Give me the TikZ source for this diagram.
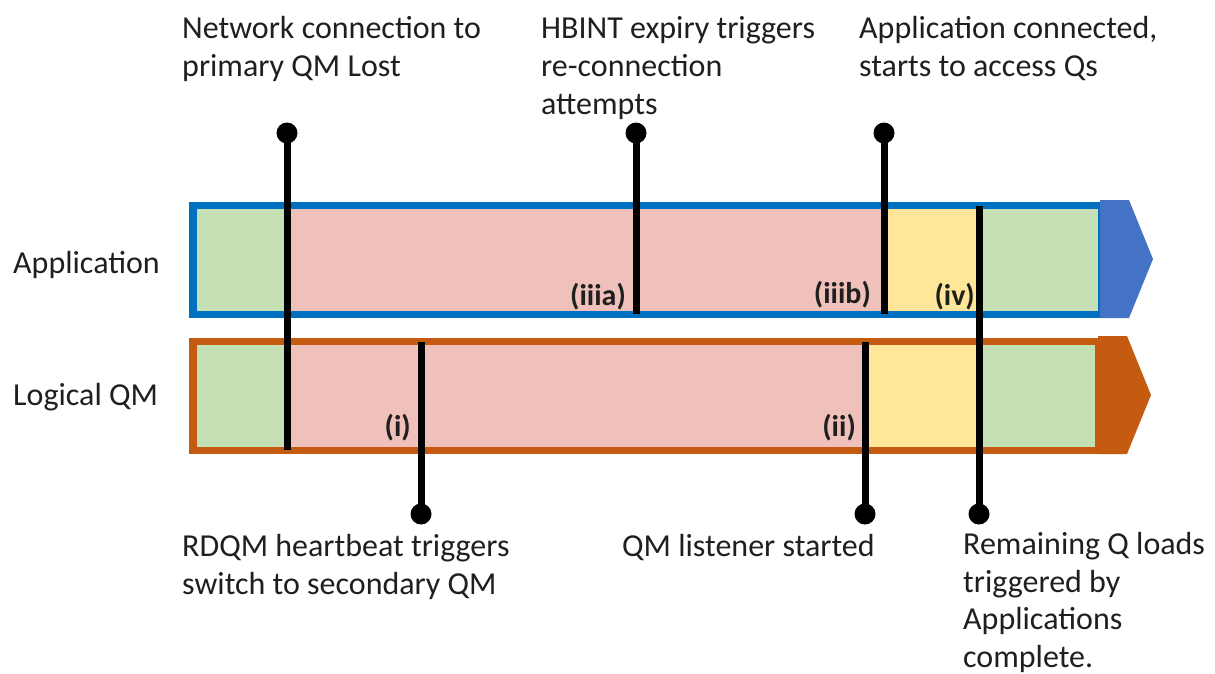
\documentclass[tikz,border=0pt]{standalone}
\usepackage{fontspec}
\setmainfont{Carlito}
\definecolor{appblue}{HTML}{0070C0}
\definecolor{headblue}{HTML}{4472C4}
\definecolor{qmorange}{HTML}{C55A11}
\definecolor{okgreen}{HTML}{C5E0B4}
\definecolor{downpink}{HTML}{F0C0BA}
\definecolor{warnyellow}{HTML}{FFE699}
\tikzset{
  txt/.style={inner sep=0pt, align=left, font=\fontsize{32}{38.3}\selectfont, text=black!88},
  tag/.style={inner sep=0pt, font=\fontsize{30}{34}\selectfont\bfseries, text=black!88},
  dot/.style={circle, fill=black, minimum size=21pt, inner sep=0pt},
  stem/.style={line width=7pt, black},
  barframe/.style={line width=7.5pt, line join=miter}
}
\begin{document}
\begin{tikzpicture}[x=1pt,y=-1pt]
\useasboundingbox (0,0) rectangle (1215,673);

% Application lane: state segments
\fill[okgreen]   (193,205.5) rectangle (287,314.5);
\fill[downpink]  (287,205.5) rectangle (884,314.5);
\fill[warnyellow](884,205.5) rectangle (979,314.5);
\fill[okgreen]   (979,205.5) rectangle (1100,314.5);
\draw[barframe, appblue] (193,205.5) rectangle (1101.5,314.5);
\fill[headblue] (1100,200) -- (1129,200) -- (1153,259) -- (1129,318) -- (1100,318) -- cycle;

% Logical QM lane: state segments
\fill[okgreen]   (193,341.5) rectangle (287,450.5);
\fill[downpink]  (287,341.5) rectangle (865,450.5);
\fill[warnyellow](865,341.5) rectangle (979,450.5);
\fill[okgreen]   (979,341.5) rectangle (1098,450.5);
\draw[barframe, qmorange] (193,341.5) rectangle (1098.8,450.5);
\fill[qmorange] (1098,336) -- (1127,336) -- (1151,395) -- (1127,454) -- (1098,454) -- cycle;

% Lane titles
\node[txt, anchor=base west] (lapp) at (13,273) {Application};
\node[txt, anchor=base west] (lqm)  at (13,405) {Logical QM};

% Event markers
\node[dot] (dA)    at (287,133) {};
\node[dot] (diiia) at (636,133) {};
\node[dot] (diiib) at (884,133) {};
\node[dot] (di)    at (421,514) {};
\node[dot] (dii)   at (865,514) {};
\node[dot] (div)   at (979,514) {};

\coordinate (eA)    at (287,450);
\coordinate (eiiia) at (636,314);
\coordinate (eiiib) at (884,314);
\coordinate (ei)    at (421,342);
\coordinate (eii)   at (865,342);
\coordinate (eiv)   at (979,206);

\draw[stem] (dA.center)    -- (eA);
\draw[stem] (diiia.center) -- (eiiia);
\draw[stem] (diiib.center) -- (eiiib);
\draw[stem] (di.center)    -- (ei);
\draw[stem] (dii.center)   -- (eii);
\draw[stem] (div.center)   -- (eiv);

% Event tags
\node[tag, anchor=base east] (tiiia) at (626,305) {(iiia)};
\node[tag, anchor=base east] (tiiib) at (871,303) {(iiib)};
\node[tag, anchor=base east] (tiv)   at (975,305) {(iv)};
\node[tag, anchor=base east] (ti)    at (411,436) {(i)};
\node[tag, anchor=base east] (tii)   at (856,436) {(ii)};

% Event descriptions
\node[txt, anchor=north west] (cA)    at (182,16) {Network connection to\\primary QM Lost};
\node[txt, anchor=north west] (ciiia) at (541,16) {HBINT expiry triggers\\re-connection\\attempts};
\node[txt, anchor=north west] (ciiib) at (859,16) {Application connected,\\starts to access Qs};
\node[txt, anchor=north west] (ci)    at (182,534) {RDQM heartbeat triggers\\switch to secondary QM};
\node[txt, anchor=north west] (cii)   at (622,534) {QM listener started};
\node[txt, anchor=north west, font=\fontsize{32}{37.6}\selectfont] (civ) at (963,532) {Remaining Q loads\\triggered by\\Applications\\complete.};
\end{tikzpicture}
\end{document}
